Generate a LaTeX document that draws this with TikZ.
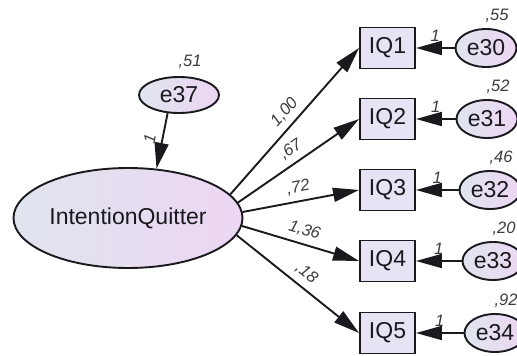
\documentclass[tikz,border=0pt]{standalone}
\usepackage{fontspec}
\setmainfont{Liberation Sans}
\usetikzlibrary{arrows.meta, shapes.geometric, positioning}
\definecolor{fillL}{RGB}{224,229,238}
\definecolor{fillR}{RGB}{236,214,243}
\definecolor{boxfill}{RGB}{232,226,245}
\definecolor{ink}{RGB}{25,25,30}

\begin{document}
\begin{tikzpicture}[x=1pt, y=-1pt, line width=1.9pt, color=ink,
  font=\fontsize{23}{27}\selectfont,
  latent/.style={ellipse, draw, left color=fillL, right color=fillR, inner sep=0pt},
  item/.style={rectangle, draw, fill=boxfill, minimum width=55pt, minimum height=41pt, inner sep=0pt},
  coef/.style={font=\fontsize{16.5}{19}\selectfont\itshape, text=ink!85, inner sep=3pt},
  regarrow/.style={-{Triangle[length=26pt, width=14pt]}}]
\useasboundingbox (0,0) rectangle (517,356);

% latent factor and its disturbance
\node[latent, minimum width=229pt, minimum height=100pt] (IQ) at (128,218) {IntentionQuitter};
\node[latent, minimum width=80pt, minimum height=36pt] (e37) at (179,95) {e37};
\node[coef, above=3pt of e37, xshift=11pt] (v37) {,51};
\draw[regarrow] (e37.-122) -- (IQ.60) node[coef, midway, sloped, above=3pt] (w37) {1};

% indicators with their errors
\foreach \n/\e/\y/\ex/\ang/\ld/\vr in {1/30/48/486/13/{1,00}/{,55},
    2/31/119/487/8/{,67}/{,52}, 3/32/190/490/3/{,72}/{,46},
    4/33/261/493/-4/{1,36}/{,20}, 5/34/333/495/-9/{,18}/{,92}} {
  \node[item] (IQ\n) at (387.5,\y) {IQ\n};
  \node[latent, minimum width=61pt, minimum height=38pt] (e\e) at (\ex,\y) {e\e};
  \node[coef, above=1pt of e\e, xshift=11pt] (v\e) {\vr};
  \draw[regarrow] (IQ.\ang) -- (IQ\n.west) node[coef, midway, sloped, above=3pt] (b\n) {\ld};
  \draw[regarrow] (e\e) -- (IQ\n) node[coef, midway, sloped, above=3pt] (u\n) {1};
}
\end{tikzpicture}
\end{document}
